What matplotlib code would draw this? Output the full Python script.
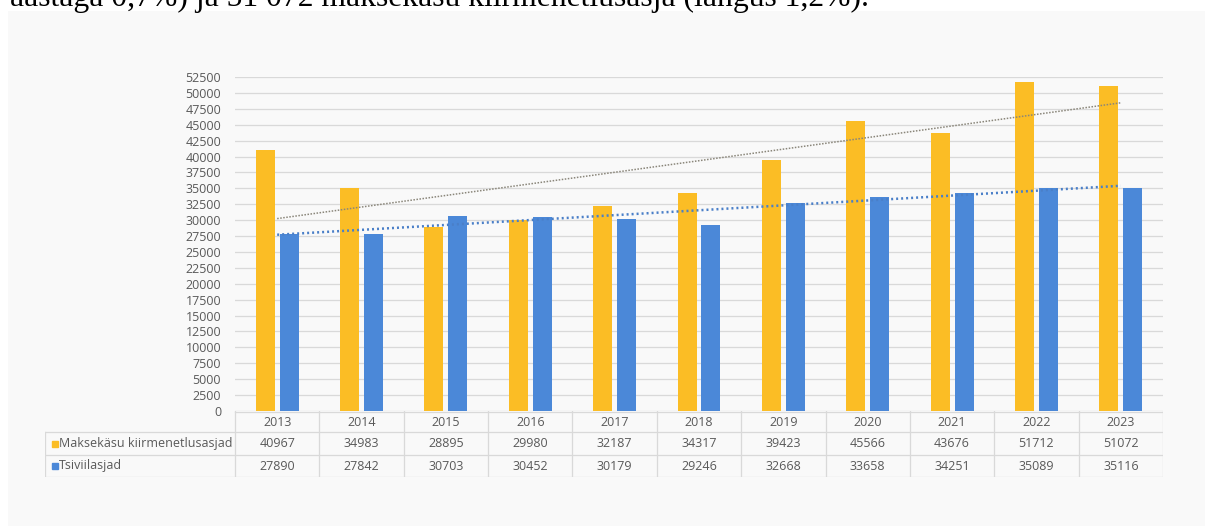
import matplotlib
matplotlib.use("Agg")
import matplotlib.pyplot as plt
from matplotlib.patches import Rectangle
import numpy as np

# data
years = ['2013', '2014', '2015', '2016', '2017', '2018', '2019', '2020', '2021', '2022', '2023']
maksekasu = [40967, 34983, 28895, 29980, 32187, 34317, 39423, 45566, 43676, 51712, 51072]
tsiviil = [27890, 27842, 30703, 30452, 30179, 29246, 32668, 33658, 34251, 35089, 35116]
series_names = ['Maksekäsu kiirmenetlusasjad', 'Tsiviilasjad']
yticks = list(range(0, 52501, 2500))

YEL = '#fbbd25'
BLU = '#4b88d8'
TXT = '#595959'
GRID = '#d9d9d9'

plt.rcParams['font.family'] = ['Open Sans', 'DejaVu Sans']

W, H = 1205, 526
fig = plt.figure(figsize=(W / 100, H / 100), dpi=100)
fig.patch.set_facecolor('white')

# light gray panel behind the chart
fig.patches.append(Rectangle((8 / W, 0), 1, (H - 11) / H, transform=fig.transFigure,
                             facecolor='#f9f9f9', edgecolor='none', zorder=-5))

# cut-off line of body text above the chart (it is cropped in the original too)
fig.text(10 / W, (H - 6) / H, 'aastaga 0,7%) ja 51 072 maksekäsu kiirmenetlusasja (langus 1,2%).',
         family='Liberation Serif', fontsize=22.8, va='baseline', ha='left', color='black')

ax_l, ax_r, ax_t, ax_b = 235, 1163, 77, 411
ax = fig.add_axes([ax_l / W, (H - ax_b) / H, (ax_r - ax_l) / W, (ax_b - ax_t) / H])
ax.set_facecolor('none')

x = np.arange(len(years))
bw = 0.225
off = 0.142
ax.bar(x - off, maksekasu, width=bw, color=YEL, zorder=3)
ax.bar(x + off, tsiviil, width=bw, color=BLU, zorder=3)

# linear trend lines
for vals, col, lw, ls in [(maksekasu, '#8a867a', 1.1, (0, (1, 1))), (tsiviil, '#4a7fc8', 1.8, (0, (0.8, 1.2)))]:
    k, b = np.polyfit(x, vals, 1)
    ax.plot(x, k * x + b, color=col, lw=lw, linestyle=ls, zorder=4)

ax.set_xlim(-0.5, len(years) - 0.5)
ax.set_ylim(0, 52500)
ax.set_yticks(yticks)
ax.set_yticklabels([str(t) for t in yticks])
ax.set_xticks([])
ax.tick_params(axis='y', length=0, pad=10, labelsize=9, labelcolor=TXT)
ax.grid(axis='y', color=GRID, lw=0.9, zorder=0)
for s in ax.spines.values():
    s.set_visible(False)

# data table below the plot
col_w = (ax_r - ax_l) / len(years)
lab_w = (ax_l - 45) / col_w
t_top, t_bot = 411, 477
tax = fig.add_axes([45 / W, (H - t_bot) / H, (ax_r - 45) / W, (t_bot - t_top) / H])
tax.set_xlim(-0.5 - lab_w, len(years) - 0.5)
tax.set_ylim(t_bot - t_top, 0)
tax.axis('off')
r1, r2, r3 = 21, 44, 66
lc = dict(color=GRID, lw=0.9)
tax.plot([-0.5, len(years) - 0.5], [0.5, 0.5], **lc)
for yy in (r1, r2, r3 - 0.5):
    tax.plot([-0.5 - lab_w, len(years) - 0.5], [yy, yy], **lc)
for i in range(len(years) + 1):
    tax.plot([i - 0.5, i - 0.5], [0, r3], **lc)
tax.plot([-0.5 - lab_w + 0.005, -0.5 - lab_w + 0.005], [r1, r3], **lc)

for i, yr in enumerate(years):
    tax.text(i, r1 / 2 + 0.5, yr, ha='center', va='center', fontsize=9, color=TXT)
    tax.text(i, (r1 + r2) / 2, str(maksekasu[i]), ha='center', va='center', fontsize=9, color=TXT)
    tax.text(i, (r2 + r3) / 2, str(tsiviil[i]), ha='center', va='center', fontsize=9, color=TXT)

sq = 6 / col_w
for (yy, col, name) in [((r1 + r2) / 2, YEL, series_names[0]), ((r2 + r3) / 2, BLU, series_names[1])]:
    tax.add_patch(Rectangle((-0.5 - lab_w + 7 / col_w, yy - 3), sq, 6, color=col))
    tax.text(-0.5 - lab_w + 14 / col_w, yy, name, ha='left', va='center', fontsize=9, color=TXT)

fig.savefig('out.png', dpi=100, facecolor='white')
